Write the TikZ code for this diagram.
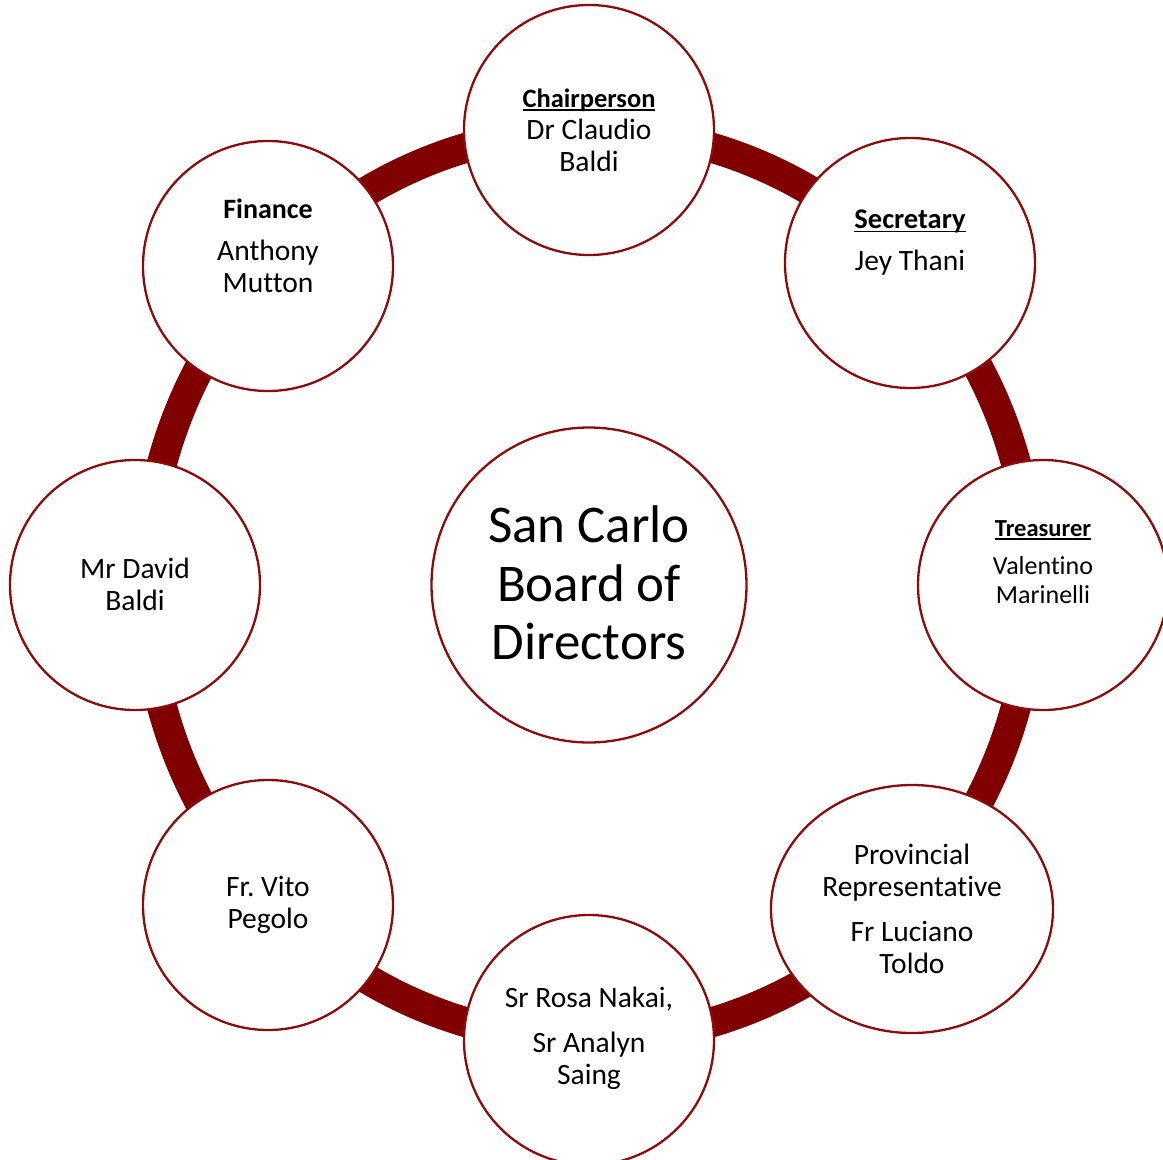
\documentclass[tikz,border=0pt]{standalone}
\usepackage{fontspec}
\setmainfont{Carlito}[Ligatures=CommonOff]
\usetikzlibrary{shapes.geometric}
\definecolor{ringred}{RGB}{128,0,0}
\definecolor{edgered}{RGB}{140,12,12}
% underline that crosses descenders, as in word-processor headings
\newcommand\headul[1]{\setbox0\hbox{#1}\rlap{\rule[-3.5pt]{\wd0}{1.8pt}}\box0}
\frenchspacing
\tikzset{
  member/.style={circle, draw=edgered, line width=2.3pt, fill=white,
    minimum size=250pt, inner sep=0pt},
  hubnode/.style={circle, draw=edgered, line width=2.3pt, fill=white,
    minimum size=315pt, inner sep=0pt},
  ringline/.style={draw=ringred, line width=30pt},
  txt/.style={align=center, inner sep=0pt, font=\fontsize{29.5}{32}\selectfont},
  bigtxt/.style={align=center, inner sep=0pt, font=\fontsize{53}{58.5}\selectfont},
}
\begin{document}
\begin{tikzpicture}[x=1pt, y=-1pt]
  \useasboundingbox (0,0) rectangle (1163,1160);
  \clip (0,0) rectangle (1163,1160);

  % ring linking the members
  \coordinate (hub) at (589,585);
  \draw[ringline] (hub) ellipse[x radius=443, y radius=455];

  % member circles
  \node[member] (chair) at (589,130) {};
  \node[member] (secretary) at (910,263) {};
  \node[member] (treasurer) at (1043,585) {};
  \node[member, ellipse, minimum width=282pt, minimum height=248pt] (provincial) at (912,909) {};
  \node[member] (sisters) at (589,1040) {};
  \node[member] (vito) at (268,905) {};
  \node[member] (david) at (135,585) {};
  \node[member] (finance) at (268,266) {};
  \node[hubnode] (board) at (hub) {};

  % texts
  \node[bigtxt] (board-t) at (589,583) {San Carlo\\Board of\\Directors};
  \node[txt] (chair-t) at (589,130)
    {{\fontsize{26.5}{32}\selectfont\bfseries\headul{Chairperson}}\\Dr Claudio\\Baldi};
  \node[txt] (secretary-t) at (910,243)
    {{\fontsize{28.5}{32}\selectfont\bfseries\headul{Secretary}}\\[10pt]Jey Thani};
  \node[txt, font=\fontsize{26}{29}\selectfont] (treasurer-t) at (1043,562)
    {{\fontsize{24.5}{29}\selectfont\bfseries\headul{Treasurer}}\\[9pt]Valentino\\Marinelli};
  \node[txt] (provincial-t) at (912,909)
    {Provincial\\Representative\\[13pt]Fr Luciano\\Toldo};
  \node[txt] (sisters-t) at (589,1038)
    {Sr Rosa Nakai,\\[13pt]Sr Analyn\\Saing};
  \node[txt] (vito-t) at (268,905) {Fr. Vito\\Pegolo};
  \node[txt] (david-t) at (135,584) {Mr David\\Baldi};
  \node[txt] (finance-t) at (268,246)
    {{\fontsize{28}{32}\selectfont\bfseries Finance}\\[10pt]Anthony\\Mutton};
\end{tikzpicture}
\end{document}
